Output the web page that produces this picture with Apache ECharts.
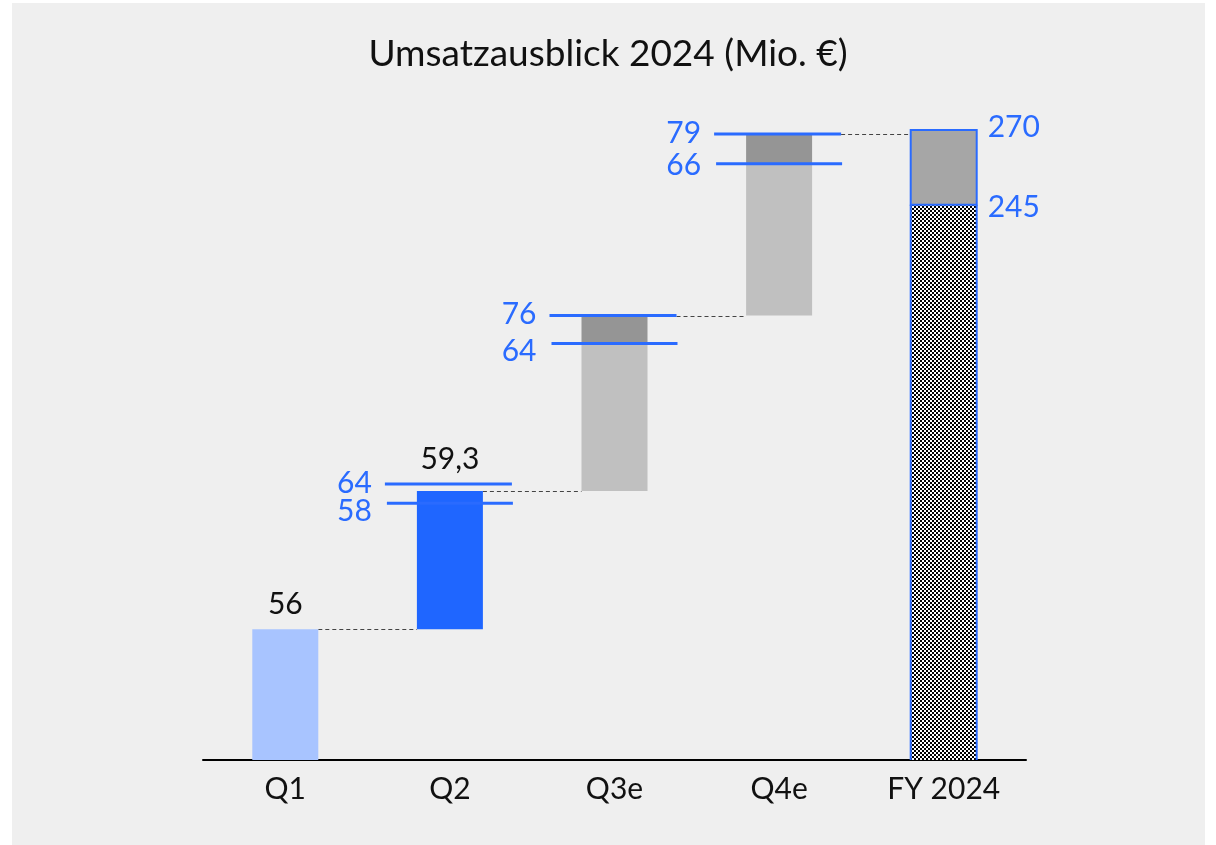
<!DOCTYPE html>
<html>
<head>
<meta charset="utf-8">
<script src="https://cdn.jsdelivr.net/npm/echarts@6/dist/echarts.min.js"></script>
<style>
  html, body { margin: 0; padding: 0; background: #fff; }
  #chart { width: 1216px; height: 845px; }
</style>
</head>
<body>
<div id="chart"></div>
<script>
// Spalten und Werte (Mio. €)
const categories = ['Q1', 'Q2', 'Q3e', 'Q4e', 'FY 2024'];
const barBottom = [0, 56, 115.3, 190.5, 0];
const actualTop = [56, 115.3, null, null, null];
const rangeLow = [null, 110, 178.5, 255.5, 238];
const rangeHigh = [null, 118.3, 190.5, 268.3, 270];
const actualLabels = ['56', '59,3', '', '', ''];
const lowLabels = ['', '58', '64', '66', '245'];
const highLabels = ['', '64', '76', '79', '270'];

const BLUE = '#2a6bff';
const FONT = 'Lato';

// Schachbrett-Muster für den FY-Balken
const hatch = document.createElement('canvas');
hatch.width = 4;
hatch.height = 4;
const hctx = hatch.getContext('2d');
hctx.fillStyle = '#fff';
hctx.fillRect(0, 0, 4, 4);
hctx.fillStyle = '#000';
hctx.fillRect(0, 0, 2, 2);
hctx.fillRect(2, 2, 2, 2);

function topOf(i) {
  return actualTop[i] != null ? actualTop[i] : rangeHigh[i];
}

function renderItem(params, api) {
  const i = api.value(0);
  const x = api.coord([i, 0])[0];
  const yOf = v => api.coord([i, v])[1];
  const half = 33;
  const connectors = [], bars = [], lines = [], texts = [];

  // gestrichelte Verbindung zur nächsten Spalte
  if (i < categories.length - 1) {
    const nx = api.coord([i + 1, 0])[0];
    const startX = (i === 2 || i === 3) ? x + 62 : x + half;
    const y = Math.round(yOf(topOf(i))) + 0.5;
    connectors.push({
      type: 'line',
      shape: { x1: startX, y1: y, x2: nx - half, y2: y },
      style: { stroke: '#444', lineWidth: 1, lineDash: [4, 3] }
    });
  }

  if (actualTop[i] != null) {
    bars.push({
      type: 'rect',
      shape: { x: x - half, y: yOf(actualTop[i]), width: half * 2, height: yOf(barBottom[i]) - yOf(actualTop[i]) },
      style: { fill: i === 0 ? '#a8c4ff' : '#1f66ff' }
    });
  } else if (i < 4) {
    bars.push({
      type: 'rect',
      shape: { x: x - half, y: yOf(rangeLow[i]), width: half * 2, height: yOf(barBottom[i]) - yOf(rangeLow[i]) },
      style: { fill: '#c0c0c0' }
    });
    bars.push({
      type: 'rect',
      shape: { x: x - half, y: yOf(rangeHigh[i]), width: half * 2, height: yOf(rangeLow[i]) - yOf(rangeHigh[i]) },
      style: { fill: '#959595' }
    });
  } else {
    bars.push({
      type: 'rect',
      shape: { x: x - half, y: yOf(rangeLow[i]), width: half * 2, height: yOf(0) - yOf(rangeLow[i]) },
      style: { fill: { image: hatch, repeat: 'repeat' } }
    });
    [x - half, x + half].forEach(sx => {
      bars.push({
        type: 'line',
        shape: { x1: sx, y1: yOf(rangeLow[i]), x2: sx, y2: yOf(0) },
        style: { stroke: BLUE, lineWidth: 2 }
      });
    });
    bars.push({
      type: 'rect',
      shape: { x: x - half, y: yOf(rangeHigh[i]), width: half * 2, height: yOf(rangeLow[i]) - yOf(rangeHigh[i]) },
      style: { fill: '#a6a6a6', stroke: BLUE, lineWidth: 2 }
    });
    texts.push({
      type: 'text',
      style: { x: x + 44, y: yOf(rangeHigh[i]) - 3, text: highLabels[i], fill: BLUE,
        font: '30px ' + FONT, textAlign: 'left', textVerticalAlign: 'middle' }
    });
    texts.push({
      type: 'text',
      style: { x: x + 44, y: yOf(rangeLow[i]) + 3, text: lowLabels[i], fill: BLUE,
        font: '30px ' + FONT, textAlign: 'left', textVerticalAlign: 'middle' }
    });
  }

  // Prognose-Spannen (blaue Linien)
  if (i >= 1 && i <= 3) {
    const yh = yOf(rangeHigh[i]);
    const yl = yOf(rangeLow[i]);
    lines.push({
      type: 'line',
      shape: { x1: x - 65, y1: yh, x2: x + 62, y2: yh },
      style: { stroke: BLUE, lineWidth: 3 }
    });
    lines.push({
      type: 'line',
      shape: { x1: x - 63, y1: yl, x2: x + 63, y2: yl },
      style: { stroke: BLUE, lineWidth: 3 }
    });
    texts.push({
      type: 'text',
      style: { x: x - 78, y: yh - 1, text: highLabels[i], fill: BLUE,
        font: '30px ' + FONT, textAlign: 'right', textVerticalAlign: 'middle' }
    });
    texts.push({
      type: 'text',
      style: { x: x - 78, y: yl + (i < 3 ? 8 : 1), text: lowLabels[i], fill: BLUE,
        font: '30px ' + FONT, textAlign: 'right', textVerticalAlign: 'middle' }
    });
  }

  if (actualLabels[i]) {
    const ref = rangeHigh[i] != null ? Math.max(rangeHigh[i], actualTop[i]) : actualTop[i];
    texts.push({
      type: 'text',
      style: { x: x, y: yOf(ref) - 25, text: actualLabels[i], fill: '#111',
        font: '30px ' + FONT, textAlign: 'center', textVerticalAlign: 'middle' }
    });
  }

  return { type: 'group', children: connectors.concat(bars, lines, texts) };
}

const myChart = echarts.init(document.getElementById('chart'));
myChart.setOption({
  backgroundColor: '#fff',
  animation: false,
  graphic: [{
    type: 'rect',
    z: -10,
    shape: { x: 12, y: 3, width: 1193, height: 842 },
    style: { fill: '#efefef' }
  }],
  title: {
    text: 'Umsatzausblick 2024 (Mio. €)',
    left: 'center',
    top: 31,
    textStyle: { fontFamily: FONT, fontSize: 37, fontWeight: 'normal', color: '#111' }
  },
  grid: { left: 203, right: 190, top: 60, bottom: 85 },
  xAxis: {
    type: 'category',
    data: categories,
    axisLine: { lineStyle: { color: '#000', width: 2 } },
    axisTick: { show: false },
    axisLabel: { fontFamily: FONT, fontSize: 30, color: '#111', margin: 14 }
  },
  yAxis: {
    type: 'value',
    min: 0,
    max: 300,
    show: false,
    splitLine: { show: false }
  },
  series: [{
    type: 'custom',
    renderItem: renderItem,
    clip: false,
    encode: { x: 0 },
    data: categories.map((c, i) => [i])
  }]
});

window.onresize = function () {
  myChart.resize();
};
</script>
</body>
</html>
